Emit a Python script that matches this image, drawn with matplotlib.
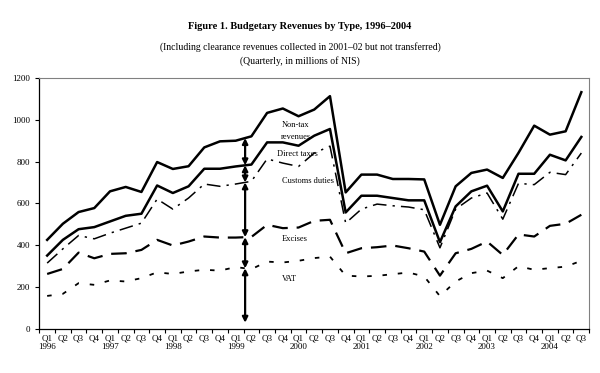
import numpy as np
import matplotlib
matplotlib.use("Agg")
import matplotlib.pyplot as plt

plt.rcParams["font.family"] = ["Liberation Serif", "DejaVu Serif"]

years = ["1996", "1997", "1998", "1999", "2000", "2001", "2002", "2003", "2004"]
quarters = ["Q1", "Q2", "Q3", "Q4"]

# cumulative levels, millions of NIS
total = [426, 503, 559, 578, 658, 679, 655, 798, 765, 778, 868, 897,
         900, 921, 1033, 1054, 1017, 1049, 1113, 653, 738, 738, 717, 717,
         715, 498, 682, 746, 762, 722, 842, 972, 929, 945, 1132]
direct = [351, 426, 477, 487, 514, 541, 551, 686, 650, 682, 766, 766,
          777, 786, 892, 892, 876, 924, 956, 557, 637, 637, 626, 615,
          615, 415, 586, 658, 685, 562, 742, 742, 833, 806, 918]
customs = [315, 383, 447, 431, 458, 482, 506, 621, 573, 626, 693, 682,
           693, 706, 813, 793, 777, 841, 874, 506, 573, 597, 589, 583,
           570, 388, 573, 626, 650, 525, 696, 690, 749, 738, 841]
excise = [263, 287, 365, 338, 359, 362, 378, 426, 399, 418, 442, 437,
          437, 440, 498, 482, 485, 517, 522, 362, 386, 391, 399, 386,
          370, 255, 362, 383, 418, 354, 452, 442, 493, 503, 546]
vat = [158, 168, 219, 211, 232, 227, 243, 271, 263, 275, 283, 279,
       296, 286, 322, 318, 326, 339, 346, 255, 251, 254, 262, 270,
       251, 157, 227, 267, 279, 243, 300, 283, 291, 298, 326]

n = len(total)
x = np.arange(n)
labels = []
for i in range(n):
    q = quarters[i % 4]
    labels.append(q + "\n" + years[i // 4] if i % 4 == 0 else q)

fig = plt.figure(figsize=(6, 3.73), dpi=100)
ax = fig.add_axes([0.0655, 0.118, 0.9165, 0.673])

ax.plot(x, total, color="black", lw=1.8)
ax.plot(x, direct, color="black", lw=1.8)
ax.plot(x, customs, color="black", lw=1.1, dashes=(9, 4, 1.5, 4))
ax.plot(x, excise, color="black", lw=1.6, dashes=(7, 4))
ax.plot(x, vat, color="black", lw=1.3, dashes=(2.5, 6))

# double arrows showing the components
xa = 12.6
levels = [np.interp(xa, x, s) for s in (total, direct, customs, excise, vat)] + [30]
for top, bot in zip(levels[:-1], levels[1:]):
    ax.annotate("", xy=(xa, bot), xytext=(xa, top),
                arrowprops=dict(arrowstyle="<|-|>", color="black", lw=1.6,
                                mutation_scale=8, shrinkA=0, shrinkB=0))

fs = 6.5
lfs = 6
ax.text(14.95, 975, "Non-tax", fontsize=lfs, va="center")
ax.text(14.85, 918, "revenues", fontsize=lfs, va="center")
ax.text(14.65, 836, "Direct taxes", fontsize=lfs, va="center")
ax.text(14.95, 709, "Customs duties", fontsize=lfs, va="center")
ax.text(14.95, 431, "Excises", fontsize=lfs, va="center")
ax.text(14.95, 240, "VAT", fontsize=lfs, va="center")

ax.set_xlim(-0.5, n - 0.5)
ax.set_ylim(0, 1200)
ax.set_yticks(range(0, 1201, 200))
ax.set_xticks(np.arange(-0.5, n, 1.0))
ax.set_xticklabels([])
ax.set_xticks(x, minor=True)
ax.set_xticklabels(labels, minor=True, fontsize=fs, linespacing=1.15)
ax.tick_params(axis="x", which="minor", length=0, pad=4)
ax.tick_params(axis="x", which="major", length=3, width=0.8)
ax.tick_params(axis="y", labelsize=fs, length=3, width=0.8)

for side in ("top", "right"):
    ax.spines[side].set_color("#808080")
for side in ("left", "bottom"):
    ax.spines[side].set_linewidth(0.9)

fig.text(0.5, 0.930, "Figure 1. Budgetary Revenues by Type, 1996\u20132004",
         ha="center", va="center", fontsize=7.5, fontweight="bold")
fig.text(0.5, 0.874, "(Including clearance revenues collected in 2001\u201302 but not transferred)",
         ha="center", va="center", fontsize=7)
fig.text(0.5, 0.836, "(Quarterly, in millions of NIS)",
         ha="center", va="center", fontsize=7)

fig.savefig("out.png", dpi=100)
